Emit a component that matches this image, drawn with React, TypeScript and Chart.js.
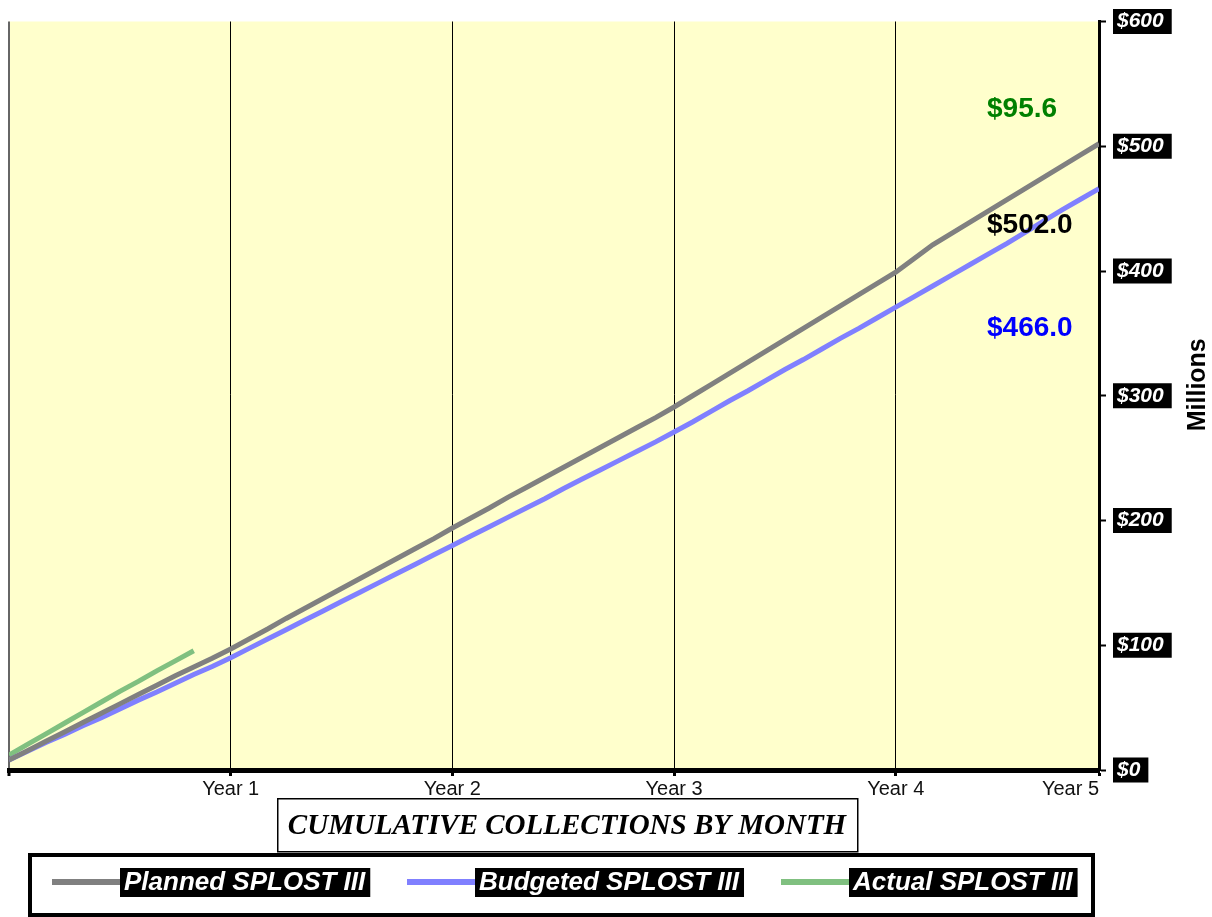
import React, { useEffect, useRef } from 'react';
import { Chart, registerables } from 'chart.js';

Chart.register(...registerables);

// ---- data ----
const yearTickIndex = [0, 12, 24, 36, 48, 59];
const yearTickLabels = ['', 'Year 1', 'Year 2', 'Year 3', 'Year 4', 'Year 5'];

const planned = [
  8, 15.5, 23, 30.5, 38, 45.5, 53, 60.5, 68, 75.5, 82.5, 89.5,
  97, 105, 113, 121.5, 129.5, 137.5, 145.5, 153.5, 161.5, 169.5, 177.5, 185.5,
  194, 202, 210, 218.5, 226.5, 234.5, 242.5, 250.5, 258.5, 266.5, 274.5, 282.5,
  291, 300, 309, 318, 327, 336, 345, 354, 363, 372, 381, 390,
  399, 410, 421, 430, 439, 448, 457, 466, 475, 484, 493, 502,
];
const budgeted = [
  8, 15, 22, 28.5, 35.5, 42, 49, 56, 62.5, 69.5, 76.5, 83,
  90, 97.5, 105, 112.5, 120, 127.5, 135, 142.5, 150, 157.5, 165, 172.5,
  180, 187.5, 195, 202.5, 210, 217.5, 225.5, 233, 240.5, 248, 255.5, 263,
  271, 279, 287.5, 296, 304, 312.5, 321, 329, 337.5, 346, 354, 362.5,
  371, 379.5, 388, 396.5, 405, 413.5, 422, 431, 440, 449, 457.5, 466,
];
const actual = [12, 20.5, 29, 37.5, 46, 54.5, 63, 71, 79.5, 87.5, 95.6];

const seriesNames = ['Planned SPLOST III', 'Budgeted SPLOST III', 'Actual SPLOST III'];
const seriesColors = ['#808080', '#8080FF', '#80C080'];

const endLabels = ['$95.6', '$502.0', '$466.0'];
const endLabelColors = ['#008000', '#000000', '#0000FF'];

const titleText = 'CUMULATIVE COLLECTIONS BY MONTH';
const axisTitle = 'Millions';

const SANS = '"Liberation Sans", Arial, sans-serif';
const SERIF = '"Liberation Serif", "Times New Roman", serif';

const toPoints = (arr: number[]) => arr.map((y, i) => ({ x: i, y }));

const decorPlugin = {
  id: 'decor',
  beforeDraw(chart: any) {
    const { ctx, chartArea } = chart;
    ctx.save();
    ctx.fillStyle = '#FFFFCC';
    ctx.fillRect(chartArea.left, chartArea.top, chartArea.right - chartArea.left, chartArea.bottom - chartArea.top);
    ctx.restore();
  },
  afterDraw(chart: any) {
    const { ctx, chartArea } = chart;
    const W = chart.width;
    const H = chart.height;
    ctx.save();

    // end value labels
    ctx.font = `bold 28px ${SANS}`;
    ctx.textAlign = 'left';
    ctx.textBaseline = 'middle';
    const labelOffsets = [88, 204, 307];
    endLabels.forEach((t, i) => {
      ctx.fillStyle = endLabelColors[i];
      ctx.fillText(t, chartArea.right - 112, chartArea.top + labelOffsets[i]);
    });

    // axis title (rotated, reads bottom to top)
    ctx.save();
    ctx.translate(W - 14, (chartArea.top + chartArea.bottom) / 2 - 11);
    ctx.rotate(-Math.PI / 2);
    ctx.font = `bold 25px ${SANS}`;
    ctx.fillStyle = '#000';
    ctx.textAlign = 'center';
    ctx.textBaseline = 'middle';
    ctx.fillText(axisTitle, 0, 0);
    ctx.restore();

    // title box
    const tx = 277, ty = H - 119, tw = 580, th = 53;
    ctx.lineWidth = 1.5;
    ctx.strokeStyle = '#000';
    ctx.strokeRect(tx + 0.75, ty + 0.75, tw, th);
    ctx.font = `italic bold 29px ${SERIF}`;
    ctx.fillStyle = '#000';
    ctx.textAlign = 'center';
    ctx.textBaseline = 'middle';
    ctx.fillText(titleText, tx + tw / 2, ty + th / 2 + 2);

    // legend box
    ctx.lineWidth = 4;
    ctx.strokeRect(30, H - 62, W - 149, 60);

    const lineXs = [52, 407, 781];
    const ly = H - 35;
    ctx.font = `italic bold 26px ${SANS}`;
    ctx.textAlign = 'left';
    ctx.textBaseline = 'middle';
    seriesNames.forEach((name, i) => {
      const x0 = lineXs[i];
      ctx.strokeStyle = seriesColors[i];
      ctx.lineWidth = 6;
      ctx.beginPath();
      ctx.moveTo(x0, ly);
      ctx.lineTo(x0 + 68, ly);
      ctx.stroke();
      const tw2 = ctx.measureText(name).width;
      ctx.fillStyle = '#000';
      ctx.fillRect(x0 + 68, H - 49, tw2 + 9, 29);
      ctx.fillStyle = '#fff';
      ctx.fillText(name, x0 + 72, H - 34);
    });

    ctx.restore();
  },
};

export default function App() {
  const ref = useRef<HTMLCanvasElement | null>(null);
  useEffect(() => {
    if (!ref.current) return;
    const chart = new Chart(ref.current, {
      type: 'line',
      data: {
        datasets: [
          { label: seriesNames[0], data: toPoints(planned), borderColor: seriesColors[0], borderWidth: 5, pointRadius: 0, tension: 0 },
          { label: seriesNames[1], data: toPoints(budgeted), borderColor: seriesColors[1], borderWidth: 5, pointRadius: 0, tension: 0 },
          { label: seriesNames[2], data: toPoints(actual), borderColor: seriesColors[2], borderWidth: 5, pointRadius: 0, tension: 0 },
        ],
      },
      options: {
        animation: false,
        responsive: true,
        maintainAspectRatio: false,
        layout: { padding: { top: 19, left: 9, right: 0, bottom: 0 } },
        plugins: { legend: { display: false }, tooltip: { enabled: false }, title: { display: false } },
        scales: {
          x: {
            type: 'linear',
            min: 0,
            max: 59,
            afterBuildTicks: (scale: any) => {
              scale.ticks = yearTickIndex.map((v) => ({ value: v }));
            },
            afterFit: (scale: any) => {
              scale.height = 147;
            },
            ticks: {
              autoSkip: false,
              maxRotation: 0,
              align: 'inner',
              padding: 1,
              color: '#111',
              font: { family: SANS, size: 20 },
              callback: (v: any) => {
                const k = yearTickIndex.indexOf(Number(v));
                return k >= 0 ? yearTickLabels[k] : '';
              },
            },
            grid: {
              drawOnChartArea: true,
              drawTicks: true,
              tickLength: 6,
              tickWidth: 3,
              tickColor: '#000',
              color: (c: any) => (c.index === 0 ? '#666' : '#000'),
              lineWidth: (c: any) => (c.index === 0 ? 2 : 1),
            },
            border: { display: true, color: '#000', width: 5 },
          },
          y: {
            position: 'right',
            min: 0,
            max: 600,
            afterFit: (scale: any) => {
              scale.width = 113;
            },
            ticks: {
              stepSize: 100,
              padding: 11,
              color: '#fff',
              font: { family: SANS, size: 21, weight: 'bold', style: 'italic', lineHeight: 1 },
              showLabelBackdrop: true,
              backdropColor: '#000',
              backdropPadding: { top: 2, bottom: 2, left: 4, right: 8 },
              callback: (v: any) => `$${v}`,
            },
            grid: {
              drawOnChartArea: false,
              drawTicks: true,
              tickLength: 7,
              tickWidth: 2,
              tickColor: '#000',
            },
            border: { display: true, color: '#000', width: 3 },
          },
        },
      } as any,
      plugins: [decorPlugin],
    });
    return () => chart.destroy();
  }, []);

  return (
    <div style={{ position: 'fixed', left: 0, top: 0, width: 1212, height: 917, background: '#fff' }}>
      <canvas ref={ref} />
    </div>
  );
}
